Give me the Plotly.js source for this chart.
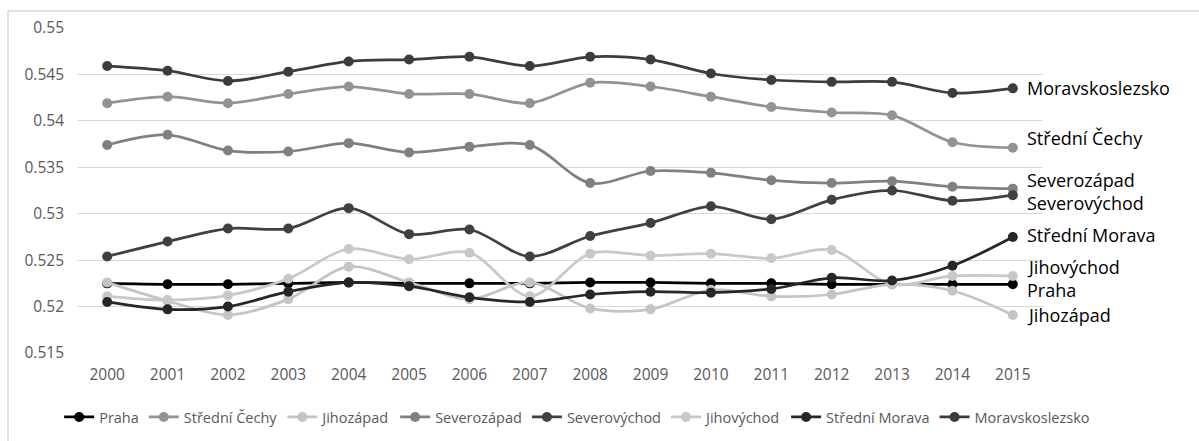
<!DOCTYPE html>
<html>
<head>
<meta charset="utf-8">
<script src="https://cdn.plot.ly/plotly-3.0.1.min.js"></script>
<style>
  html, body { margin: 0; padding: 0; background: #fff; }
  #chart { width: 1199px; height: 441px; }
</style>
</head>
<body>
<div id="chart"></div>
<script>
const years = ['2000','2001','2002','2003','2004','2005','2006','2007','2008','2009','2010','2011','2012','2013','2014','2015'];

const praha           = [0.5225,0.5224,0.5224,0.5225,0.5226,0.5225,0.5225,0.5225,0.5226,0.5226,0.5225,0.5225,0.5224,0.5224,0.5224,0.5224];
const stredniCechy    = [0.5419,0.5426,0.5419,0.5429,0.5437,0.5429,0.5429,0.5419,0.5441,0.5437,0.5426,0.5415,0.5409,0.5406,0.5377,0.5371];
const jihozapad       = [0.5226,0.5206,0.5191,0.5208,0.5243,0.5226,0.5208,0.5226,0.5198,0.5197,0.5218,0.5211,0.5213,0.5224,0.5217,0.5191];
const severozapad     = [0.5374,0.5385,0.5368,0.5367,0.5376,0.5366,0.5372,0.5374,0.5333,0.5346,0.5344,0.5336,0.5333,0.5335,0.5329,0.5327];
const severovychod    = [0.5254,0.5270,0.5284,0.5284,0.5306,0.5278,0.5283,0.5254,0.5276,0.5290,0.5308,0.5294,0.5315,0.5325,0.5314,0.5320];
const jihovychod      = [0.5211,0.5207,0.5212,0.5230,0.5262,0.5251,0.5258,0.5211,0.5257,0.5255,0.5257,0.5252,0.5261,0.5224,0.5233,0.5233];
const stredniMorava   = [0.5205,0.5197,0.5200,0.5216,0.5226,0.5222,0.5210,0.5205,0.5213,0.5216,0.5215,0.5219,0.5231,0.5228,0.5244,0.5275];
const moravskoslezsko = [0.5459,0.5454,0.5443,0.5453,0.5464,0.5466,0.5469,0.5459,0.5469,0.5466,0.5451,0.5444,0.5442,0.5442,0.5430,0.5435];

const seriesNames = ['Praha','Střední Čechy','Jihozápad','Severozápad','Severovýchod','Jihovýchod','Střední Morava','Moravskoslezsko'];
const seriesValues = [praha, stredniCechy, jihozapad, severozapad, severovychod, jihovychod, stredniMorava, moravskoslezsko];
const seriesColors = ['#000000','#939393','#c4c4c4','#808080','#404040','#c8c8c8','#262626','#3c3c3c'];
// vertical offset (px) of the end label relative to the last point
const labelShift = [-6, 10, 0, 9, -8, 9, 2, 0];

const traces = seriesNames.map((n, i) => ({
  type: 'scatter',
  mode: 'lines+markers',
  name: n,
  x: years,
  y: seriesValues[i],
  line: { color: seriesColors[i], width: 2.75, shape: 'spline', smoothing: 0.9 },
  marker: { color: seriesColors[i], size: 10 }
}));

const lastIdx = years.length - 1;
const annotations = seriesNames.map((n, i) => ({
  x: lastIdx,
  y: seriesValues[i][lastIdx],
  xref: 'x', yref: 'y',
  text: n,
  showarrow: false,
  xanchor: 'left',
  yanchor: 'middle',
  xshift: 12,
  yshift: labelShift[i],
  font: { family: 'Open Sans', size: 18, color: '#000000' }
}));

const layout = {
  width: 1199,
  height: 441,
  margin: { l: 77, r: 156, t: 28, b: 88, autoexpand: false },
  paper_bgcolor: '#ffffff',
  plot_bgcolor: '#ffffff',
  showlegend: true,
  font: { family: 'Open Sans', color: '#595959' },
  xaxis: {
    type: 'category',
    range: [-0.5, lastIdx + 0.5],
    autorange: false,
    showgrid: false,
    zeroline: false,
    showline: false,
    ticks: '',
    ticklabelstandoff: 10,
    tickfont: { family: 'Open Sans', size: 15.5, color: '#595959' }
  },
  yaxis: {
    range: [0.515, 0.55],
    autorange: false,
    dtick: 0.005,
    tick0: 0.515,
    showgrid: true,
    gridcolor: '#d9d9d9',
    gridwidth: 1,
    zeroline: false,
    showline: false,
    ticks: '',
    ticklabelstandoff: 12,
    tickfont: { family: 'Open Sans', size: 15.5, color: '#595959' }
  },
  legend: {
    orientation: 'h',
    xref: 'paper', yref: 'paper',
    x: 1.054, xanchor: 'right',
    y: -0.197, yanchor: 'middle',
    font: { family: 'Open Sans', size: 14.5, color: '#595959' },
    traceorder: 'normal',
    itemwidth: 30
  },
  annotations: annotations,
  shapes: [{
    type: 'rect', xref: 'paper', yref: 'paper', layer: 'below',
    x0: (8 - 77) / 966, x1: 1.2, y0: -0.35, y1: (353 - 11) / 325,
    line: { color: '#d9d9d9', width: 1.5 }, fillcolor: 'rgba(0,0,0,0)'
  }]
};

Plotly.newPlot('chart', traces, layout, { displayModeBar: false, staticPlot: true });
</script>
</body>
</html>
